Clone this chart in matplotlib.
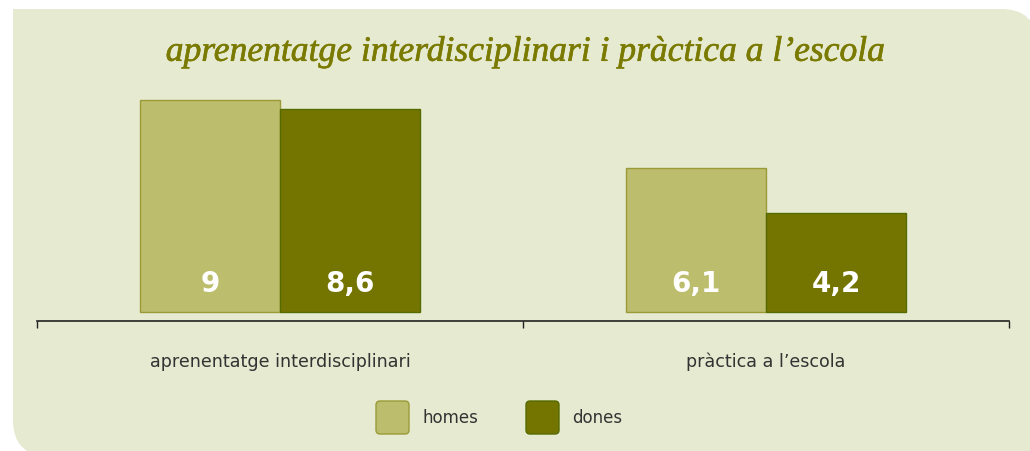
import numpy as np
import matplotlib.pyplot as plt
import matplotlib.patheffects as pe
from matplotlib.patches import FancyBboxPatch, Rectangle

categories = ['aprenentatge interdisciplinari', 'pràctica a l’escola']
homes = [9, 6.1]
dones = [8.6, 4.2]
homes_labels = ['9', '6,1']
dones_labels = ['8,6', '4,2']
series_names = ['homes', 'dones']
title = 'aprenentatge interdisciplinari i pràctica a l’escola'

c_homes = '#BDBD6E'
c_homes_edge = '#9A9A38'
c_dones = '#747400'
c_dones_edge = '#556B00'
bg = '#E6EAD0'

W, H = 1030, 452
fig = plt.figure(figsize=(W / 100, H / 100), dpi=100)
fig.patch.set_facecolor('white')

# background panel in pixel coords (rounded top-right and bottom-left)
bgax = fig.add_axes([0, 0, 1, 1], zorder=0)
bgax.set_xlim(0, W)
bgax.set_ylim(H, 0)
bgax.axis('off')
bgax.add_patch(FancyBboxPatch((13, 10), 1024, 447,
                              boxstyle='round,pad=0,rounding_size=36',
                              fc=bg, ec='none'))
bgax.add_patch(Rectangle((13, 10), 100, 100, fc=bg, ec='none'))
bgax.add_patch(Rectangle((900, 350), 137, 110, fc=bg, ec='none'))

bgax.text(525, 53, title, ha='center', va='center', fontsize=25.6,
          family='Liberation Serif', style='italic', color='#7A7A00',
          path_effects=[pe.withStroke(linewidth=0.45, foreground='#7A7A00')])

# legend
leg_x = [376, 526]
for i, name in enumerate(series_names):
    fc = [c_homes, c_dones][i]
    ec = [c_homes_edge, c_dones_edge][i]
    bgax.add_patch(FancyBboxPatch((leg_x[i], 402), 33, 33,
                                  boxstyle='round,pad=0,rounding_size=4',
                                  fc=fc, ec=ec, lw=1))
    bgax.text(leg_x[i] + 46, 418, name, ha='left', va='center',
              fontsize=12, color='#333333')

# bar chart axes: x from 37 to 1009 px, spine at y=322 px
left = 37 / W
right = 1009 / W
bottom = (H - 322) / H
top = (H - 80) / H
ax = fig.add_axes([left, bottom, right - left, top - bottom], zorder=1)
ax.patch.set_alpha(0)
scale = 23.6
ax.set_ylim(-9 / scale, -9 / scale + 242 / scale)
ax.set_xlim(0, 2)

x = np.arange(len(categories)) + 0.5
w = 140 / 486
ax.bar(x - w / 2, homes, w, color=c_homes, edgecolor=c_homes_edge, lw=1)
ax.bar(x + w / 2, dones, w, color=c_dones, edgecolor=c_dones_edge, lw=1)

for i in range(len(categories)):
    ax.text(x[i] - w / 2, 1.25, homes_labels[i], ha='center', va='center',
            color='white', fontsize=20, fontweight='bold')
    ax.text(x[i] + w / 2, 1.25, dones_labels[i], ha='center', va='center',
            color='white', fontsize=20, fontweight='bold')

for s in ['top', 'right', 'left']:
    ax.spines[s].set_visible(False)
ax.spines['bottom'].set_color('#222222')
ax.spines['bottom'].set_linewidth(1.2)
ax.set_yticks([])
ax.set_xticks([0, 1, 2])
ax.set_xticklabels([])
ax.tick_params(axis='x', direction='out', length=5, width=1, color='#222222')
ax.set_xticks(x, minor=True)
ax.set_xticklabels(categories, minor=True, fontsize=12.6, color='#333333')
ax.tick_params(axis='x', which='minor', length=0, pad=22)

fig.savefig('out.png', dpi=100, facecolor='white')
